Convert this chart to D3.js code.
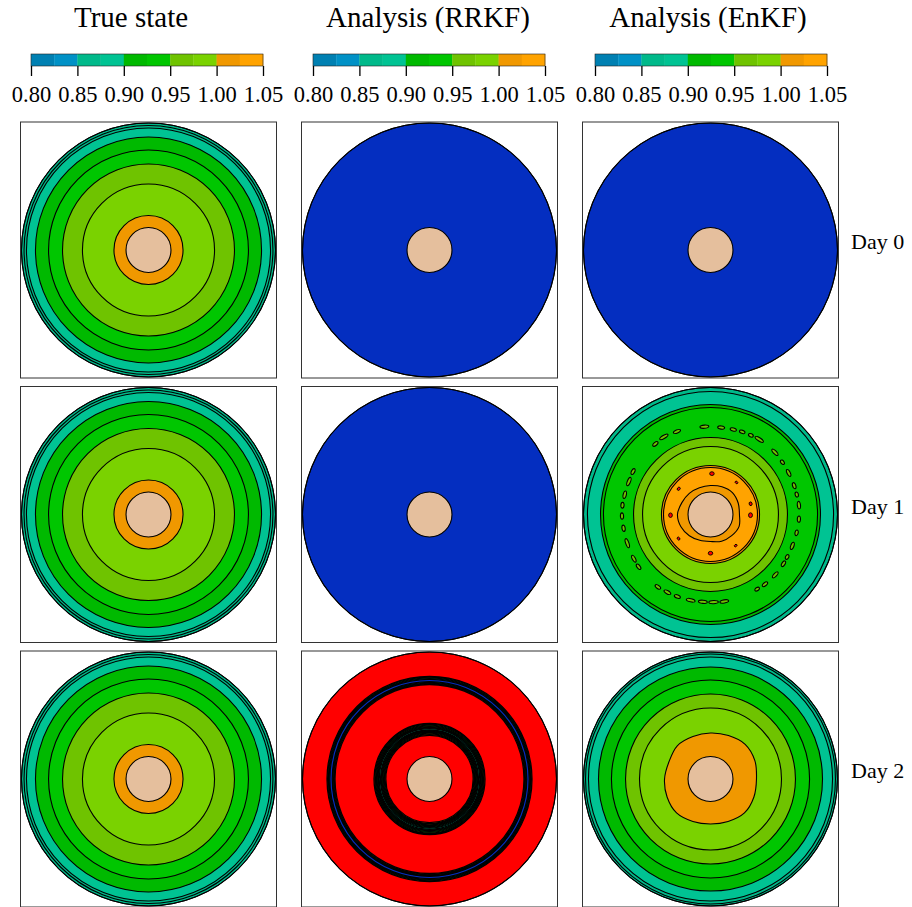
<!DOCTYPE html>
<html>
<head>
<meta charset="utf-8">
<script src="https://cdn.jsdelivr.net/npm/d3@7"></script>
<style>
  body { margin: 0; background: #fff; }
  svg { display: block; }
  text { font-family: "Liberation Serif", "Times New Roman", serif; fill: #000; }
</style>
</head>
<body>
<svg id="chart" width="912" height="907"></svg>
<script>
const serif = "Liberation Serif, Times New Roman, serif";

// Contour levels and the colour of each band between them
const levels = [0.800, 0.825, 0.850, 0.875, 0.900, 0.925, 0.950, 0.975, 1.000, 1.025, 1.050];
const bandColors = ["#0080b2", "#0091c6", "#00b98a", "#00c393", "#00b900", "#00c600",
                    "#6fc300", "#7ad200", "#f09800", "#ffa300"];
const underColor = "#042ec0";
const overColor = "#ff0000";
const wellColor = "#e5bf9d";
const tickValues = [0.80, 0.85, 0.90, 0.95, 1.00, 1.05];
const columnTitles = ["True state", "Analysis (RRKF)", "Analysis (EnKF)"];
const dayLabels = ["Day 0", "Day 1", "Day 2"];

// Radial profiles: outer radius of each ring (fraction of the reservoir radius)
// and the field value inside that ring
const wellRadius = 0.177;
const trueRadius = [1.000, 0.980, 0.961, 0.890, 0.787, 0.677, 0.520, 0.272];
const trueValue  = [0.862, 0.870, 0.885, 0.910, 0.935, 0.960, 0.985, 1.010];

const priorRadius = [1.000];
const priorValue  = [0.700];

const rrkfDay2Radius = [1.000,
                        0.807, 0.802, 0.796, 0.791, 0.785, 0.766, 0.761, 0.755, 0.750, 0.744,
                        0.437, 0.431, 0.425, 0.419, 0.413, 0.407, 0.402, 0.396,
                        0.386, 0.380, 0.374, 0.368, 0.362, 0.356, 0.350, 0.344];
const rrkfDay2Value  = [1.100,
                        1.040, 0.990, 0.930, 0.860, 0.750, 0.830, 0.900, 0.960, 1.020, 1.100,
                        1.045, 1.000, 0.960, 0.930, 0.905, 0.885, 0.870, 0.860,
                        0.870, 0.885, 0.905, 0.930, 0.960, 1.000, 1.045, 1.100];

const enkfDay1Radius = [1.000, 0.969, 0.866, 0.843, 0.606, 0.535, 0.386, 0.370];
const enkfDay1Value  = [0.865, 0.885, 0.910, 0.935, 0.960, 0.985, 1.010, 1.035];
// irregular 1.025 contour near the well, radius every 22.5 degrees clockwise from north
const enkfDay1InnerEdge = [0.228, 0.236, 0.244, 0.236, 0.228, 0.244, 0.236, 0.228,
                           0.213, 0.220, 0.236, 0.252, 0.260, 0.244, 0.236, 0.228];
const enkfDay1InnerValue = 1.015;
// small closed contours in the green band
const islandAngle  = [-22, -4, 7, 15, 21, 27, 33, 46, 54, 62, 71, 77, 84, 93, 102, 111, 119, 124,
                      133, 142, 148, 171, 178, 185, 193, 202, 209, 216, 234, 240, 251, 261, 269,
                      276, 283, 292, 299, 322, 329];
const islandRadius = [0.705, 0.693, 0.690, 0.693, 0.697, 0.700, 0.705, 0.705, 0.700, 0.697, 0.697,
                      0.697, 0.700, 0.697, 0.693, 0.690, 0.690, 0.693, 0.697, 0.697, 0.693, 0.693,
                      0.690, 0.690, 0.693, 0.697, 0.700, 0.705, 0.700, 0.697, 0.693, 0.693, 0.697,
                      0.697, 0.693, 0.693, 0.697, 0.705, 0.713];
const islandLength = [0.060, 0.070, 0.055, 0.050, 0.045, 0.040, 0.075, 0.065, 0.040, 0.060, 0.050,
                      0.040, 0.060, 0.050, 0.045, 0.060, 0.040, 0.050, 0.060, 0.050, 0.040, 0.070,
                      0.075, 0.070, 0.070, 0.050, 0.060, 0.050, 0.050, 0.060, 0.075, 0.050, 0.050,
                      0.045, 0.060, 0.070, 0.050, 0.050, 0.075];
const islandValue = 0.955;
// small high-value pockets in the orange band
const pocketAngle  = [2, 39, 75, 91, 141, 180, 233, 269, 309];
const pocketRadius = [0.322, 0.325, 0.327, 0.315, 0.315, 0.305, 0.315, 0.315, 0.322];
const pocketSize   = [0.026, 0.014, 0.020, 0.028, 0.014, 0.026, 0.016, 0.026, 0.018];
const pocketValue  = 1.080;

const enkfDay2Radius = [1.000, 0.984, 0.961, 0.882, 0.780, 0.669, 0.559];
const enkfDay2Value  = [0.862, 0.870, 0.885, 0.910, 0.935, 0.960, 0.985];
// irregular 1.0 contour, radius every 22.5 degrees clockwise from north
const enkfDay2OrangeEdge = [0.362, 0.370, 0.386, 0.378, 0.362, 0.370, 0.378, 0.362,
                            0.354, 0.362, 0.378, 0.370, 0.362, 0.354, 0.370, 0.362];
const enkfDay2OrangeValue = 1.010;

const panels = [
  { col: 0, row: 0, radius: trueRadius, value: trueValue },
  { col: 0, row: 1, radius: trueRadius, value: trueValue },
  { col: 0, row: 2, radius: trueRadius, value: trueValue },
  { col: 1, row: 0, radius: priorRadius, value: priorValue },
  { col: 1, row: 1, radius: priorRadius, value: priorValue },
  { col: 1, row: 2, radius: rrkfDay2Radius, value: rrkfDay2Value, dense: true },
  { col: 2, row: 0, radius: priorRadius, value: priorValue },
  { col: 2, row: 1, radius: enkfDay1Radius, value: enkfDay1Value,
    blob: { edge: enkfDay1InnerEdge, value: enkfDay1InnerValue }, islands: true },
  { col: 2, row: 2, radius: enkfDay2Radius, value: enkfDay2Value,
    blob: { edge: enkfDay2OrangeEdge, value: enkfDay2OrangeValue } }
];

const svg = d3.select("#chart");
const color = d3.scaleThreshold().domain(levels).range([underColor, ...bandColors, overColor]);
const colX = d3.scalePoint().domain(d3.range(3)).range([148.5, 710.5]);
const rowY = d3.scalePoint().domain(d3.range(3)).range([250, 779]);
const rScale = d3.scaleLinear().domain([0, 1]).range([0, 127]);
const half = 128;
const deg = Math.PI / 180;

// column titles and colour bars
const barWidth = 232;
const barX = d3.scaleLinear().domain([levels[0], levels[levels.length - 1]]).range([0, barWidth]);
const barLeft = [31, 313, 595];
const titleX = [131, 428, 708];
columnTitles.forEach((title, i) => {
  svg.append("text")
    .attr("x", titleX[i]).attr("y", 27)
    .attr("text-anchor", "middle").style("font-size", "29px")
    .text(title);

  const g = svg.append("g").attr("transform", `translate(${barLeft[i]},54)`);
  g.selectAll("rect.band").data(bandColors).join("rect")
    .attr("class", "band")
    .attr("x", (d, k) => barX(levels[k]))
    .attr("width", (d, k) => barX(levels[k + 1]) - barX(levels[k]) + 0.3)
    .attr("y", 0).attr("height", 12)
    .attr("fill", d => d);
  g.append("rect").attr("width", barWidth).attr("height", 12)
    .attr("fill", "none").attr("stroke", "#222").attr("stroke-width", 0.6);

  const axis = g.append("g").attr("transform", "translate(0,12)")
    .call(d3.axisBottom(barX).tickValues(tickValues).tickFormat(d3.format(".2f"))
      .tickSize(10).tickPadding(10));
  axis.attr("font-family", serif).attr("font-size", 22.5);
  axis.select(".domain").remove();
  axis.selectAll(".tick line").attr("stroke", "#000").attr("stroke-width", 1.3);
  axis.selectAll(".tick text").attr("fill", "#000")
    .style("font-family", serif).style("font-size", "22.5px");
});

// day labels
dayLabels.forEach((label, j) => {
  svg.append("text")
    .attr("x", 851).attr("y", rowY(j) - 1)
    .style("font-size", "22px")
    .text(label);
});

const radialLine = d3.lineRadial().curve(d3.curveCatmullRomClosed.alpha(0.5));

panels.forEach(p => {
  const cx = colX(p.col), cy = rowY(p.row);
  const g = svg.append("g").attr("transform", `translate(${cx},${cy})`);
  const lineW = p.dense ? 1.3 : 1.1;

  // filled bands, outermost first, each outlined by its contour line
  g.selectAll("circle.ring").data(p.radius.map((r, k) => ({ r, v: p.value[k] }))).join("circle")
    .attr("class", "ring")
    .attr("r", d => rScale(d.r))
    .attr("fill", d => color(d.v))
    .attr("stroke", "#000").attr("stroke-width", (d, k) => k === 0 ? 1.1 : lineW);

  if (p.islands) {
    const isl = g.append("g");
    islandAngle.forEach((a, k) => {
      isl.append("ellipse")
        .attr("transform", `rotate(${a}) translate(0,${-rScale(islandRadius[k])})`)
        .attr("rx", rScale(islandLength[k]) / 2).attr("ry", 1.6)
        .attr("fill", color(islandValue)).attr("stroke", "#000").attr("stroke-width", 1.1);
    });
  }

  if (p.blob) {
    const step = 360 / p.blob.edge.length;
    g.append("path")
      .attr("d", radialLine(p.blob.edge.map((r, k) => [k * step * deg, rScale(r)])))
      .attr("fill", color(p.blob.value)).attr("stroke", "#000").attr("stroke-width", 1.1);
  }

  if (p.islands) {
    pocketAngle.forEach((a, k) => {
      g.append("ellipse")
        .attr("transform", `rotate(${a}) translate(0,${-rScale(pocketRadius[k])})`)
        .attr("rx", rScale(pocketSize[k]) / 2 + 0.6).attr("ry", rScale(pocketSize[k]) / 2 + 0.2)
        .attr("fill", color(pocketValue)).attr("stroke", "#000").attr("stroke-width", 0.9);
    });
  }

  // the well at the centre
  g.append("circle").attr("r", rScale(wellRadius))
    .attr("fill", wellColor).attr("stroke", "#000").attr("stroke-width", 1.1);

  // reservoir boundary
  g.append("circle").attr("r", rScale(1))
    .attr("fill", "none").attr("stroke", "#000").attr("stroke-width", 1);

  svg.append("rect")
    .attr("x", cx - half).attr("y", cy - half)
    .attr("width", 2 * half).attr("height", 2 * half)
    .attr("fill", "none").attr("stroke", "#333").attr("stroke-width", 1);
});
</script>
</body>
</html>
